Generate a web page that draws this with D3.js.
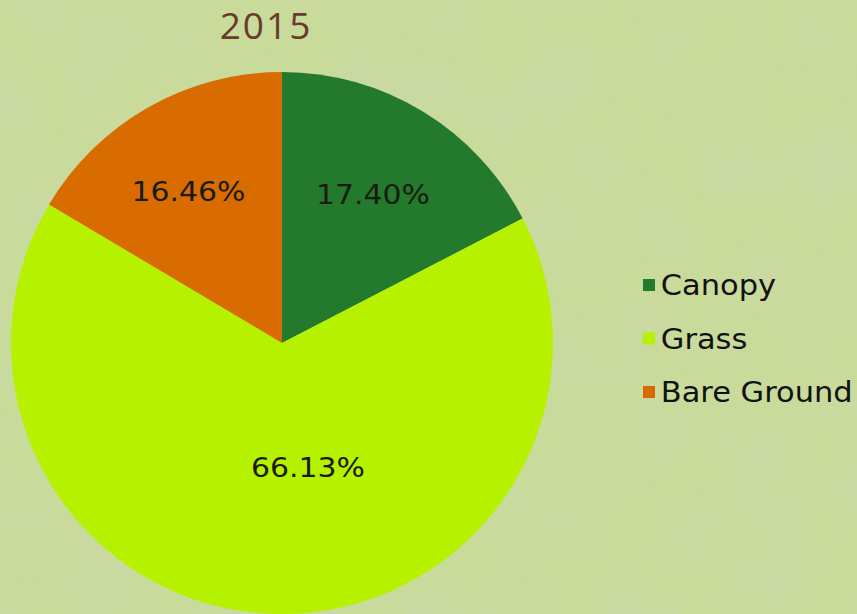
<!DOCTYPE html>
<html>
<head>
<meta charset="utf-8">
<script src="https://cdn.jsdelivr.net/npm/d3@7"></script>
<style>
  body { margin: 0; background: #c8da98; }
  svg { display: block; }
</style>
</head>
<body>
<div id="chart"></div>
<script>
// chart data
var title = "2015";
var categories = ["Canopy", "Grass", "Bare Ground"];
var percents = [17.40, 66.13, 16.46];
var colors = ["#237a2d", "#b6f200", "#d96c00"];

var svgWidth = 857;
var svgHeight = 614;

var svg = d3.select("#chart").append("svg")
    .attr("width", svgWidth)
    .attr("height", svgHeight);

// mottled background
var defs = svg.append("defs");
var filt = defs.append("filter").attr("id", "paper")
    .attr("x", 0).attr("y", 0).attr("width", "100%").attr("height", "100%");
filt.append("feTurbulence")
    .attr("type", "fractalNoise")
    .attr("baseFrequency", 0.015)
    .attr("numOctaves", 4)
    .attr("seed", 7);
filt.append("feColorMatrix")
    .attr("type", "matrix")
    .attr("values", "0 0 0 0 0.6  0 0 0 0 0.66  0 0 0 0 0.5  0 0 0 1.4 -0.55");

svg.append("rect")
    .attr("width", svgWidth).attr("height", svgHeight)
    .attr("fill", "#c9db9a");
svg.append("rect")
    .attr("width", svgWidth).attr("height", svgHeight)
    .attr("filter", "url(#paper)")
    .attr("opacity", 0.5);

// title
svg.append("text")
    .attr("x", 266)
    .attr("y", 39)
    .attr("text-anchor", "middle")
    .style("font-family", "'Open Sans', 'DejaVu Sans', sans-serif")
    .style("font-size", "37px")
    .style("letter-spacing", "2px")
    .style("fill", "#6b3a2c")
    .text(title);

// pie
var radius = 271;
var pieGroup = svg.append("g")
    .attr("transform", "translate(282, 343)");

var pie = d3.pie()
    .value(d => d)
    .sort(null);

var arc = d3.arc()
    .innerRadius(0)
    .outerRadius(radius);

var labelArc = d3.arc()
    .innerRadius(173)
    .outerRadius(173);

var slices = pie(percents);

pieGroup.selectAll("path")
    .data(slices)
    .enter()
    .append("path")
    .attr("d", arc)
    .attr("fill", (d, i) => colors[i]);

pieGroup.selectAll("text.pct")
    .data(slices)
    .enter()
    .append("text")
    .attr("class", "pct")
    .attr("transform", function(d, i) {
        var c = labelArc.centroid(d);
        // the big slice's label sits nearer the middle
        if (i === 1) {
            c = d3.arc().innerRadius(128).outerRadius(128)
                .centroid({startAngle: d.startAngle, endAngle: d.endAngle - 0.45});
        }
        var dx = i === 2 ? -8 : 1;
        return `translate(${c[0] + dx}, ${c[1] - 1}) scale(1.15, 1)`;
    })
    .attr("text-anchor", "middle")
    .attr("dy", "0.36em")
    .style("font-family", "'DejaVu Sans', Verdana, sans-serif")
    .style("font-size", "26px")
    .style("fill", "#1a1a10")
    .text(d => d.data.toFixed(2) + "%");

// legend
var legend = svg.append("g")
    .attr("transform", "translate(643, 285)");

var rows = legend.selectAll("g")
    .data(categories)
    .enter()
    .append("g")
    .attr("transform", (d, i) => `translate(0, ${i * 53.5})`);

rows.append("rect")
    .attr("x", 0)
    .attr("y", -6)
    .attr("width", 12)
    .attr("height", 12)
    .attr("fill", (d, i) => colors[i]);

rows.append("text")
    .attr("x", 17)
    .attr("y", 0)
    .attr("dy", "0.36em")
    .attr("transform", "scale(1.05, 1)")
    .style("font-family", "'DejaVu Sans', Verdana, sans-serif")
    .style("font-size", "29px")
    .style("fill", "#111")
    .text(d => d);
</script>
</body>
</html>
